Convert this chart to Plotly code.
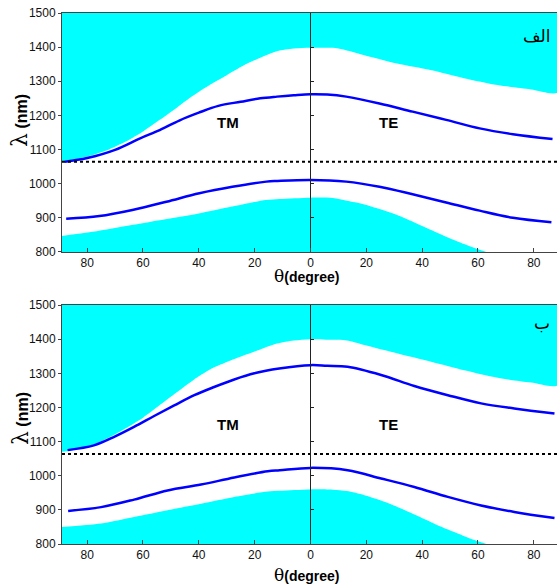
import plotly.graph_objects as go

# ---------------- axis settings ----------------
X_MIN, X_MAX = -89, 88.3
Y_MIN, Y_MAX = 800, 1500
LASER_NM = 1064

x_tick_vals = [-80, -60, -40, -20, 0, 20, 40, 60, 80]
x_tick_text = ["80", "60", "40", "20", "0", "20", "40", "60", "80"]
y_tick_vals = [800, 900, 1000, 1100, 1200, 1300, 1400, 1500]

# ---------------- panel (a)  "الف" ----------------
gap_hi_theta_a = [-89, -84, -78, -72, -66, -60, -54, -48, -42, -36, -30, -24, -18, -12, -6, 0, 6, 10, 19, 31, 43, 55, 67, 79, 89]
gap_hi_lam_a   = [1066, 1072, 1084, 1101, 1124, 1153, 1187, 1222, 1258, 1290, 1318, 1346, 1369, 1388, 1396, 1398, 1398, 1396, 1377, 1352, 1333, 1309, 1289, 1276, 1269]

gap_lo_theta_a = [-89, -78, -64, -52, -40, -28, -16, -11, 0, 8, 13, 19, 25, 31, 37, 43, 49, 55, 59, 63]
gap_lo_lam_a   = [847, 859, 879, 896, 913, 933, 952, 955, 959, 958, 950, 940, 925, 908, 887, 865, 843, 823, 811, 800]

edge_hi_theta_a = [-88, -80, -70, -61, -54, -47, -40, -33, -25, -18, -12, -6, 0, 6, 12.8, 24.7, 36.6, 48.6, 60.6, 72.5, 86.7]
edge_hi_lam_a   = [1064, 1075, 1099, 1133, 1157, 1185, 1208, 1228, 1240, 1250, 1255, 1259, 1262, 1261, 1255, 1235, 1211, 1187, 1162, 1145, 1131]

edge_lo_theta_a = [-87.5, -75.6, -63.8, -51.6, -39.8, -28, -15.8, -11.8, 0, 12.8, 24.7, 36.6, 48.6, 60.6, 72.5, 86.3]
edge_lo_lam_a   = [897, 905, 923, 947, 972, 991, 1006, 1008, 1011, 1006, 991, 969, 945, 921, 900, 887]

# ---------------- panel (b)  "ب" ----------------
gap_hi_theta_b = [-89, -84, -78, -72, -66, -60, -54, -48, -42, -36, -30, -24, -18, -12, -6, 0, 8, 13, 19.3, 31.3, 43.2, 55.1, 67.1, 79, 89]
gap_hi_lam_b   = [1070, 1077, 1091, 1113, 1140, 1170, 1207, 1244, 1280, 1311, 1333, 1352, 1370, 1387, 1396, 1400, 1398, 1396, 1383, 1358, 1334, 1309, 1287, 1273, 1267]

gap_lo_theta_b = [-89, -75, -63.2, -51.2, -39.2, -27.3, -15.3, -11, 0, 8, 13, 19.3, 25, 31.3, 37, 43.2, 49, 55.1, 59, 63]
gap_lo_lam_b   = [850, 860, 879, 899, 918, 938, 954, 956, 960, 959, 955, 943, 928, 908, 887, 864, 843, 823, 811, 800]

edge_hi_theta_b = [-87, -77.6, -70.3, -63.2, -56, -48.8, -41.6, -34.5, -27.3, -20.1, -11.2, 0, 6, 13.3, 25.3, 37.2, 49.2, 61.1, 73, 87.4]
edge_hi_lam_b   = [1075, 1089, 1114, 1143, 1175, 1206, 1236, 1260, 1282, 1300, 1314, 1324, 1322, 1319, 1295, 1263, 1236, 1212, 1197, 1182]

edge_lo_theta_b = [-86.8, -75, -63.2, -51.2, -39.2, -27.3, -15.3, -11, 0, 13.3, 25.3, 37.2, 49.2, 61.1, 73, 87.4]
edge_lo_lam_b   = [897, 908, 930, 957, 974, 995, 1013, 1016, 1023, 1016, 992, 967, 938, 913, 894, 876]

panels = [
    dict(xa="x", ya="y", yo="y3", gh=(gap_hi_theta_a, gap_hi_lam_a), gl=(gap_lo_theta_a, gap_lo_lam_a),
         eh=(edge_hi_theta_a, edge_hi_lam_a), el=(edge_lo_theta_a, edge_lo_lam_a)),
    dict(xa="x2", ya="y2", yo="y4", gh=(gap_hi_theta_b, gap_hi_lam_b), gl=(gap_lo_theta_b, gap_lo_lam_b),
         eh=(edge_hi_theta_b, edge_hi_lam_b), el=(edge_lo_theta_b, edge_lo_lam_b)),
]

CYAN = "#00FFFF"
BLUE = "#0000FF"

fig = go.Figure()
for p in panels:
    # upper band gap: region between boundary and top of axis
    tx, ty = p["gh"]
    fig.add_trace(go.Scatter(x=list(tx) + [tx[-1], tx[0]], y=list(ty) + [Y_MAX, Y_MAX],
                             fill="toself", fillcolor=CYAN, mode="lines",
                             line=dict(width=0, color=CYAN, shape="spline", smoothing=0.8),
                             xaxis=p["xa"], yaxis=p["ya"], hoverinfo="skip"))
    # lower band gap: region below boundary
    bx, by = p["gl"]
    fig.add_trace(go.Scatter(x=bx, y=by, fill="tozeroy", fillcolor=CYAN, mode="lines",
                             line=dict(width=0, color=CYAN, shape="spline", smoothing=0.8),
                             xaxis=p["xa"], yaxis=p["ya"], hoverinfo="skip"))
    # band edges
    for key in ("eh", "el"):
        ex, ey = p[key]
        fig.add_trace(go.Scatter(x=ex, y=ey, mode="lines", line=dict(color=BLUE, width=2.5, shape="spline"),
                                 xaxis=p["xa"], yaxis=p["ya"]))
    # laser wavelength dotted line (drawn on overlay axis that marks theta=0)
    fig.add_trace(go.Scatter(x=[X_MIN, X_MAX], y=[LASER_NM, LASER_NM], mode="lines",
                             line=dict(color="black", width=2, dash="dot"),
                             xaxis=p["xa"], yaxis=p["yo"]))

font_tick = dict(family="Liberation Sans, Arial, sans-serif", size=12, color="#111")
xcommon = dict(range=[X_MIN, X_MAX], tickvals=x_tick_vals, ticktext=x_tick_text, ticks="inside",
               ticklen=4, tickcolor="#444", showline=True, linecolor="#444", linewidth=1, mirror=True,
               showgrid=False, zeroline=False, tickfont=font_tick, domain=[0, 1])
ycommon = dict(range=[Y_MIN, Y_MAX], tickvals=y_tick_vals, ticks="outside", ticklen=3, tickcolor="#444",
               showline=True, linecolor="#444", linewidth=1, mirror=True, showgrid=False,
               zeroline=False, tickfont=font_tick)
zero_pos = (0 - X_MIN) / (X_MAX - X_MIN)
yover = dict(range=[Y_MIN, Y_MAX], tickvals=y_tick_vals, ticks="inside", ticklen=3, tickcolor="#222",
             showline=True, linecolor="#222", linewidth=1, showgrid=False, zeroline=False,
             showticklabels=False, anchor="free", position=zero_pos)

fig.update_layout(
    width=557, height=588,
    margin=dict(l=62, r=0, t=13, b=44),
    paper_bgcolor="white", plot_bgcolor="white",
    showlegend=False,
    xaxis=dict(**xcommon, anchor="y"),
    yaxis=dict(**ycommon, domain=[0.55, 1], anchor="x"),
    xaxis2=dict(**xcommon, anchor="y2"),
    yaxis2=dict(**ycommon, domain=[0, 0.45], anchor="x2"),
    yaxis3=dict(**yover, overlaying="y"),
    yaxis4=dict(**yover, overlaying="y2"),
)

lab_font = dict(family="Liberation Sans, Arial, sans-serif", size=15, color="black")
ann = []
for xr, yr, yt in (("x", "y", 1180), ("x2", "y2", 1151)):
    ann.append(dict(x=-29.7, y=yt, xref=xr, yref=yr, text="<b>TM</b>", showarrow=False, font=lab_font))
    ann.append(dict(x=28, y=yt, xref=xr, yref=yr, text="<b>TE</b>", showarrow=False, font=lab_font))
ann.append(dict(x=81, y=1433, xref="x", yref="y", text="الف", showarrow=False,
                font=dict(family="DejaVu Sans", size=17, color="black")))
ann.append(dict(x=83, y=1447, xref="x2", yref="y2", text="ب", showarrow=False,
                font=dict(family="DejaVu Sans", size=17, color="black")))
ytitle = "<span style='font-family:DejaVu Serif;font-size:22px'>λ</span><b> (nm)</b>"
xtitle = "<span style='font-family:DejaVu Serif;font-size:17px'>θ</span><b>(degree)</b>"
for yp in (0.7985, 0.237):
    ann.append(dict(x=-0.085, y=yp, xref="paper", yref="paper", text=ytitle, textangle=-90,
                    showarrow=False, xanchor="center", yanchor="middle",
                    font=dict(family="Liberation Sans, Arial, sans-serif", size=16, color="black")))
for yp in (0.5047, -0.0584):
    ann.append(dict(x=0.493, y=yp, xref="paper", yref="paper", text=xtitle,
                    showarrow=False, xanchor="center", yanchor="middle",
                    font=dict(family="Liberation Sans, Arial, sans-serif", size=14, color="black")))
fig.update_layout(annotations=ann)

fig.write_html("out.html", config={"displayModeBar": False},
               post_script="document.body.style.margin='0px';")
